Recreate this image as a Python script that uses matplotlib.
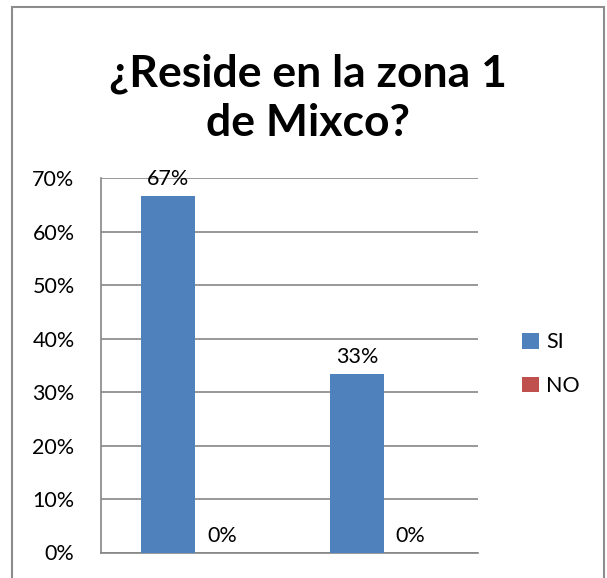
import matplotlib
matplotlib.use("Agg")
import matplotlib.pyplot as plt
from matplotlib.patches import Rectangle
import numpy as np

plt.rcParams['font.family'] = ['Lato', 'DejaVu Sans']

categories = ["", ""]
series_names = ["SI", "NO"]
si_values = [0.6667, 0.3333]
no_values = [0.0, 0.0]
y_ticks = [0.0, 0.1, 0.2, 0.3, 0.4, 0.5, 0.6, 0.7]
title = "¿Reside en la zona 1\nde Mixco?"

colors = ["#4F81BD", "#C0504D"]
grid_color = "#868686"

W, H = 607, 578
fig = plt.figure(figsize=(W / 100, H / 100), dpi=100)

# plot area in pixel coordinates
left, right, top, bottom = 101, 478, 178, 552.5
ax = fig.add_axes([left / W, 1 - bottom / H, (right - left) / W, (bottom - top) / H])

x = np.arange(len(categories))
bw = 1 / 3.5
ax.bar(x - bw / 2, si_values, width=bw, color=colors[0], label=series_names[0], zorder=3)
ax.bar(x + bw / 2, no_values, width=bw, color=colors[1], label=series_names[1], zorder=3)

for xi, v in zip(x - bw / 2, si_values):
    ax.annotate(f"{v:.0%}", (xi, v), xytext=(0, 5), textcoords="offset points",
                ha="center", va="bottom", fontsize=15.5, color="black")
for xi, v in zip(x + bw / 2, no_values):
    ax.annotate(f"{v:.0%}", (xi, v), xytext=(0, 5), textcoords="offset points",
                ha="center", va="bottom", fontsize=15.5, color="black")

ax.set_xlim(-0.5, len(categories) - 0.5)
ax.set_ylim(0, 0.7)
ax.set_yticks(y_ticks)
ax.set_yticklabels([f"{t:.0%}" for t in y_ticks], fontsize=15.5)
ax.set_xticks(x)
ax.set_xticklabels(categories)
ax.tick_params(axis="both", length=0, pad=19)
ax.yaxis.grid(True, color=grid_color, linewidth=1.2, zorder=0)
ax.set_axisbelow(True)
for s in ["top", "right"]:
    ax.spines[s].set_visible(False)
for s in ["left", "bottom"]:
    ax.spines[s].set_color(grid_color)
    ax.spines[s].set_linewidth(1.2)

fig.text(0.5 * (12 + 604) / W, 1 - 98 / H, title, ha="center", va="center",
         fontsize=32, fontweight="bold", linespacing=1.28)

leg = fig.legend(loc="upper left", bbox_to_anchor=(503 / W, 1 - 313 / H), frameon=False,
                 fontsize=15.5, handlelength=0.75, handleheight=0.75, handletextpad=0.35,
                 labelspacing=1.1)

# chart frame
fig.patches.append(Rectangle((12 / W, -0.05), (604 - 12) / W, 1.05 - 7 / H,
                             transform=fig.transFigure, fill=False,
                             edgecolor="#8C8C8C", linewidth=1.5))

fig.savefig("out.png", dpi=100)
